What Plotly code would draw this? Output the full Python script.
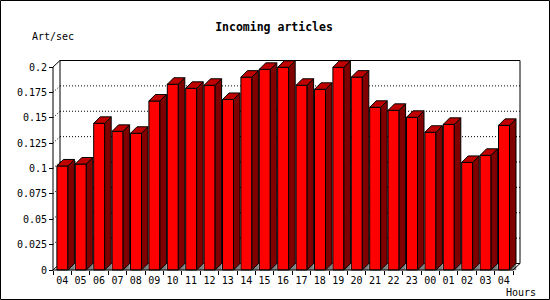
import plotly.graph_objects as go

# ---------------- data ----------------
hours = ["04", "05", "06", "07", "08", "09", "10", "11", "12", "13", "14", "15",
         "16", "17", "18", "19", "20", "21", "22", "23", "00", "01", "02", "03", "04"]
rate = [0.1025, 0.1044, 0.1445, 0.1366, 0.1347, 0.1665, 0.1830, 0.1790, 0.1820,
        0.1680, 0.1900, 0.1977, 0.1997, 0.1820, 0.1780, 0.1997, 0.1900, 0.1603,
        0.1573, 0.1504, 0.1357, 0.1435, 0.1060, 0.1130, 0.1425]
ytick_vals = [0, 0.025, 0.05, 0.075, 0.1, 0.125, 0.15, 0.175, 0.2]
ytick_text = ["0", "0.025", "0.05", "0.075", "0.1", "0.125", "0.15", "0.175", "0.2"]
title = "Incoming articles"
ylabel = "Art/sec"
xlabel = "Hours"

# ---------------- geometry (pixels) ----------------
W, H = 550, 300
PL, PR, PT, PB = 50, 523, 58, 273          # plot area in px
X0PX, Y0PX = 53, 270                       # front origin
BIN = 18.4                                 # px per hour bin
YS = 1015.0                                # px per unit of y
n = len(rate)

xr = [(PL - X0PX) / BIN, (PR - X0PX) / BIN]
yr = [(Y0PX - PB) / YS, (Y0PX - PT) / YS]

DXF, DYF = 7 / BIN, 6.5 / YS               # frame depth
DXB, DYB = 6.5 / BIN, 6.5 / YS             # bar depth
FL = 3.9 / BIN                             # front face left offset
FW = 11 / BIN                              # front face width
ymax = ytick_vals[-1]


def px_to_paper_x(px):
    return (px - PL) / (PR - PL)


def px_to_paper_y(py):
    return (PB - py) / (PB - PT)


fig = go.Figure()

# front faces
fig.add_trace(go.Bar(
    x=[i + FL + FW / 2 for i in range(n)], y=rate, width=FW,
    marker=dict(color="#FF0000", line=dict(color="black", width=1)),
    hoverinfo="skip", showlegend=False))

# side faces, top faces, floor triangles
sx, sy, tx, ty, gx, gy = [], [], [], [], [], []
for i, v in enumerate(rate):
    L = i + FL
    R = L + FW
    sx += [R, R, R + DXB, R + DXB, R, None]
    sy += [0, v, v + DYB, DYB, 0, None]
    tx += [L, L + DXB, R + DXB, R, L, None]
    ty += [v, v + DYB, v + DYB, v, v, None]
    gx += [R, R + DXB, R + DXB, R, None]
    gy += [0, DYB, 0, 0, None]

fig.add_trace(go.Scatter(x=gx, y=gy, mode="lines", fill="toself", fillcolor="#808080",
                         line=dict(color="#808080", width=0.5), hoverinfo="skip", showlegend=False))
fig.add_trace(go.Scatter(x=sx, y=sy, mode="lines", fill="toself", fillcolor="#800000",
                         line=dict(color="black", width=1), hoverinfo="skip", showlegend=False))
fig.add_trace(go.Scatter(x=tx, y=ty, mode="lines", fill="toself", fillcolor="#C00000",
                         line=dict(color="black", width=1), hoverinfo="skip", showlegend=False))

shapes = []
# dotted gridlines on back wall + diagonal connectors
for t in ytick_vals[1:-1]:
    shapes.append(dict(type="line", xref="x", yref="y", x0=DXF, x1=n + DXF,
                       y0=t + DYF, y1=t + DYF, layer="below",
                       line=dict(color="black", width=1, dash="1px,2px")))
    shapes.append(dict(type="line", xref="x", yref="y", x0=0, x1=DXF,
                       y0=t, y1=t + DYF, layer="below",
                       line=dict(color="black", width=1, dash="1px,2px")))
# back frame
back = [((DXF, ymax + DYF), (n + DXF, ymax + DYF)),
        ((n + DXF, ymax + DYF), (n + DXF, DYF)),
        ((DXF, ymax + DYF), (DXF, DYF)),
        ((DXF, DYF), (n + DXF, DYF)),
        ((0, ymax), (DXF, ymax + DYF)),
        ((0, 0), (DXF, DYF))]
for (a, b) in back:
    shapes.append(dict(type="line", xref="x", yref="y", x0=a[0], y0=a[1], x1=b[0], y1=b[1],
                       layer="below", line=dict(color="black", width=1)))
# front axes
front = [((0, 0), (0, ymax)), ((0, 0), (n, 0)), ((n, 0), (n + DXF, DYF))]
for (a, b) in front:
    shapes.append(dict(type="line", xref="x", yref="y", x0=a[0], y0=a[1], x1=b[0], y1=b[1],
                       layer="above", line=dict(color="black", width=1)))
# outer border
shapes.append(dict(type="rect", xref="paper", yref="paper",
                   x0=px_to_paper_x(0.5), x1=px_to_paper_x(549.5),
                   y0=px_to_paper_y(299.5), y1=px_to_paper_y(0.5),
                   line=dict(color="black", width=1), fillcolor="rgba(0,0,0,0)", layer="above"))

font = dict(family="DejaVu Sans Mono", size=10, color="black")

fig.update_layout(
    width=W, height=H,
    margin=dict(l=PL, r=W - PR, t=PT, b=H - PB, pad=0),
    paper_bgcolor="white", plot_bgcolor="white",
    showlegend=False, shapes=shapes, font=font,
    title=dict(text="<b>" + title + "</b>", x=274 / W, xref="container", xanchor="center",
               y=1 - 27 / H, yref="container", yanchor="middle",
               font=dict(family="DejaVu Sans Mono", size=11.5, color="black")),
    xaxis=dict(range=xr, showgrid=False, zeroline=False, showline=False,
               anchor="free", position=px_to_paper_y(Y0PX),
               tickmode="array", tickvals=[i + 0.5 for i in range(n)], ticktext=hours,
               ticks="outside", ticklen=1, tickcolor="rgba(0,0,0,0)", tickfont=font,
               minor=dict(tickmode="array", tickvals=list(range(n + 1)), ticks="outside",
                          ticklen=4, tickwidth=1, tickcolor="black", showgrid=False)),
    yaxis=dict(range=yr, showgrid=False, zeroline=False, showline=False,
               anchor="free", position=px_to_paper_x(X0PX), side="left",
               tickmode="array", tickvals=ytick_vals, ticktext=ytick_text,
               ticks="outside", ticklen=4, tickwidth=1, tickcolor="black", tickfont=font),
    annotations=[
        dict(text=ylabel, xref="paper", yref="paper", x=px_to_paper_x(30), y=px_to_paper_y(37),
             xanchor="left", yanchor="middle", showarrow=False, font=font),
        dict(text=xlabel, xref="paper", yref="paper", x=px_to_paper_x(504), y=px_to_paper_y(292),
             xanchor="left", yanchor="middle", showarrow=False, font=font),
    ],
)

fig.write_html("out.html")
